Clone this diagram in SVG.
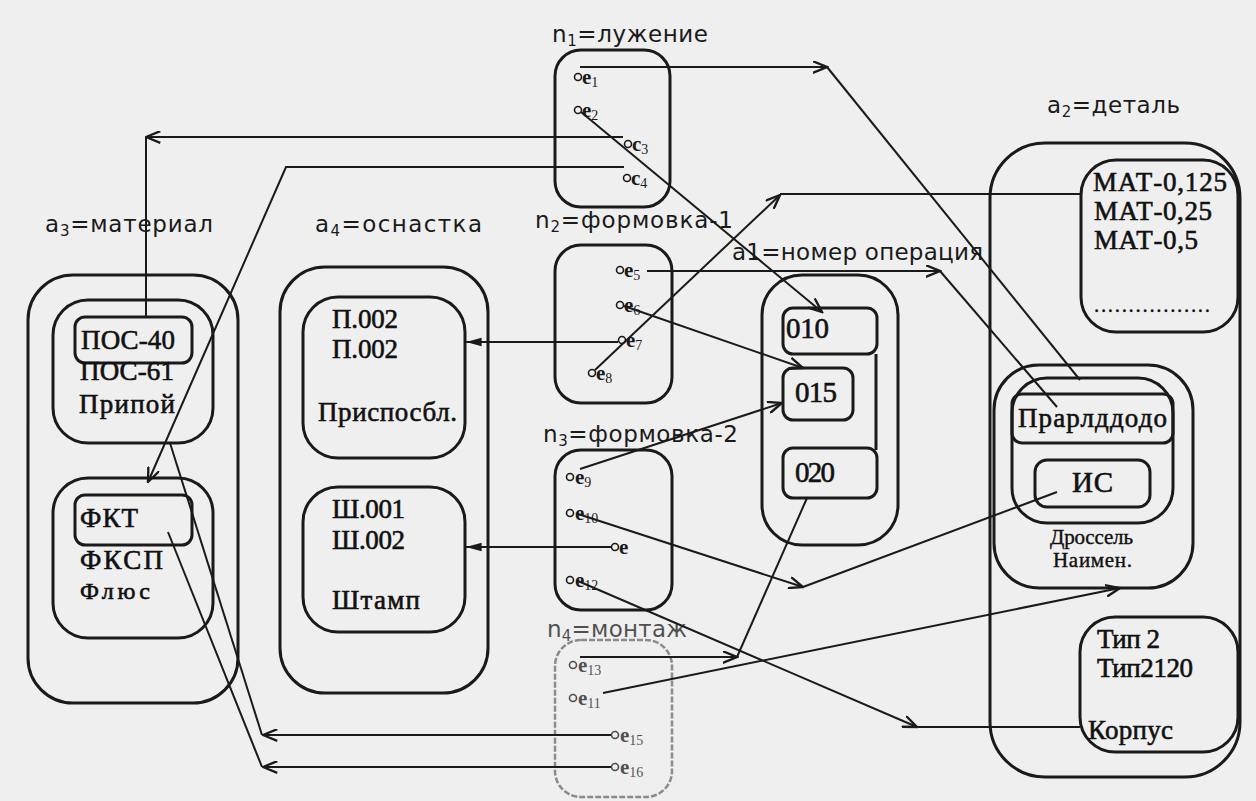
<svg xmlns="http://www.w3.org/2000/svg" width="1256" height="801" viewBox="0 0 1256 801">
<style>
.bx{fill:none;stroke:#1a1a1a;stroke-width:3}
.bxf{fill:none;stroke:#6a6a6a;stroke-width:2.5;stroke-dasharray:6 2}
.cn{fill:none;stroke:#1a1a1a;stroke-width:2}
.pt{fill:none;stroke:#1a1a1a;stroke-width:1.6}
.lb{font-family:"DejaVu Sans","Liberation Sans",sans-serif;font-size:23px;fill:#1a1a1a}
.sr{font-family:"Liberation Serif","Times New Roman",serif;font-size:27px;fill:#111;stroke:#111;stroke-width:0.6}
.sm{font-family:"Liberation Serif","Times New Roman",serif;font-size:21px;fill:#111;stroke:#111;stroke-width:0.4}
.it{font-family:"Liberation Serif","Times New Roman",serif;font-size:21px;font-weight:bold;fill:#1a1a1a}
.sb{font-size:14px;font-weight:normal}
.ls{font-size:15px}
</style>
<defs>
<marker id="op" viewBox="0 0 12 10" refX="11" refY="5" markerWidth="16" markerHeight="13" markerUnits="userSpaceOnUse" orient="auto">
<path d="M0,0.5 L11,5 L0,9.5" fill="none" stroke="#1a1a1a" stroke-width="1.8"/>
</marker>
<marker id="fl" viewBox="0 0 14 10" refX="13" refY="5" markerWidth="18" markerHeight="12" markerUnits="userSpaceOnUse" orient="auto">
<path d="M0,1.5 L13,5 L0,8.5 Z" fill="#1a1a1a"/>
</marker>
</defs>
<rect width="1256" height="801" fill="#efefef"/>

<g id="n1">
<rect class="bx" x="555" y="50" width="115" height="157" rx="26"/>
<text class="lb" x="552" y="42" textLength="156">n<tspan class="ls" dy="4">1</tspan><tspan dy="-4">=лужение</tspan></text>
<circle class="pt" cx="578" cy="77" r="3.5"/><text class="it" x="582" y="84">e<tspan class="sb" dy="3">1</tspan></text>
<circle class="pt" cx="578" cy="110" r="3.5"/><text class="it" x="582" y="117">e<tspan class="sb" dy="3">2</tspan></text>
<circle class="pt" cx="628" cy="144" r="3.5"/><text class="it" x="632" y="151">c<tspan class="sb" dy="3">3</tspan></text>
<circle class="pt" cx="627" cy="178" r="3.5"/><text class="it" x="631" y="185">c<tspan class="sb" dy="3">4</tspan></text>
</g>

<g id="n2">
<rect class="bx" x="555" y="245" width="117" height="158" rx="26"/>
<text class="lb" x="535" y="228" textLength="198">n<tspan class="ls" dy="4">2</tspan><tspan dy="-4">=формовка-1</tspan></text>
<circle class="pt" cx="620" cy="270" r="3.5"/><text class="it" x="624" y="277">e<tspan class="sb" dy="3">5</tspan></text>
<circle class="pt" cx="620" cy="305" r="3.5"/><text class="it" x="624" y="312">e<tspan class="sb" dy="3">6</tspan></text>
<circle class="pt" cx="622" cy="340" r="3.5"/><text class="it" x="626" y="347">e<tspan class="sb" dy="3">7</tspan></text>
<circle class="pt" cx="592" cy="373" r="3.5"/><text class="it" x="596" y="380">e<tspan class="sb" dy="3">8</tspan></text>
</g>

<g id="n3">
<rect class="bx" x="555" y="450" width="117" height="160" rx="26"/>
<text class="lb" x="543" y="442" textLength="195">n<tspan class="ls" dy="4">3</tspan><tspan dy="-4">=формовка-2</tspan></text>
<circle class="pt" cx="570" cy="477" r="3.5"/><text class="it" x="575" y="484">e<tspan class="sb" dy="3">9</tspan></text>
<circle class="pt" cx="570" cy="513" r="3.5"/><text class="it" x="575" y="520">e<tspan class="sb" dy="3">10</tspan></text>
<circle class="pt" cx="615" cy="547" r="3.5"/><text class="it" x="619" y="554">e</text>
<circle class="pt" cx="570" cy="580" r="3.5"/><text class="it" x="575" y="587">e<tspan class="sb" dy="3">12</tspan></text>
</g>

<g id="n4" opacity="0.75">
<rect class="bxf" x="555" y="640" width="117" height="157" rx="26"/>
<text class="lb" x="547" y="637" textLength="140">n<tspan class="ls" dy="4">4</tspan><tspan dy="-4">=монтаж</tspan></text>
<circle class="pt" cx="573" cy="665" r="3.5"/><text class="it" x="578" y="672">e<tspan class="sb" dy="3">13</tspan></text>
<circle class="pt" cx="573" cy="698" r="3.5"/><text class="it" x="578" y="705">e<tspan class="sb" dy="3">11</tspan></text>
<circle class="pt" cx="615" cy="735" r="3.5"/><text class="it" x="620" y="742">e<tspan class="sb" dy="3">15</tspan></text>
<circle class="pt" cx="615" cy="767" r="3.5"/><text class="it" x="620" y="774">e<tspan class="sb" dy="3">16</tspan></text>
</g>

<g id="a3">
<text class="lb" x="45" y="232" textLength="168">a<tspan class="ls" dy="4">3</tspan><tspan dy="-4">=материал</tspan></text>
<rect class="bx" x="28" y="275" width="210" height="428" rx="45"/>
<rect class="bx" x="53" y="300" width="160" height="143" rx="35"/>
<rect class="bx" x="75" y="317" width="117" height="46" rx="10"/>
<text class="sr" x="81" y="349" textLength="94">ПОС-40</text>
<text class="sr" x="80" y="380" textLength="94">ПОС-61</text>
<text class="sr" x="79" y="413" textLength="96">Припой</text>
<rect class="bx" x="53" y="478" width="160" height="160" rx="35"/>
<rect class="bx" x="75" y="495" width="117" height="50" rx="10"/>
<text class="sr" x="80" y="527" textLength="58">ФКТ</text>
<text class="sr" x="80" y="569" textLength="83">ФКСП</text>
<text class="sr" x="80" y="599" textLength="70" style="font-size:24px">Флюс</text>
</g>

<g id="a4">
<text class="lb" x="315" y="232" textLength="167">a<tspan class="ls" dy="4">4</tspan><tspan dy="-4">=оснастка</tspan></text>
<rect class="bx" x="280" y="267" width="208" height="426" rx="45"/>
<rect class="bx" x="303" y="297" width="162" height="161" rx="35"/>
<text class="sr" x="332" y="328" textLength="66">П.002</text>
<text class="sr" x="332" y="358" textLength="66">П.002</text>
<text class="sr" x="318" y="421" textLength="139">Приспосбл.</text>
<rect class="bx" x="303" y="487" width="162" height="145" rx="35"/>
<text class="sr" x="332" y="518" textLength="73">Ш.001</text>
<text class="sr" x="332" y="549" textLength="73">Ш.002</text>
<text class="sr" x="332" y="609" textLength="88">Штамп</text>
</g>

<g id="a1">
<text class="lb" x="732" y="260" textLength="251">a1=номер операция</text>
<rect class="bx" x="762" y="275" width="136" height="270" rx="40"/>
<rect class="bx" x="783" y="308" width="94" height="46" rx="10"/>
<line class="bx" x1="876" y1="354" x2="876" y2="450"/>
<text class="sr" x="786" y="338" textLength="43" style="font-size:29px">010</text>
<rect class="bx" x="783" y="368" width="70" height="52" rx="10"/>
<text class="sr" x="795" y="402" textLength="42" style="font-size:29px">015</text>
<rect class="bx" x="783" y="448" width="94" height="50" rx="10"/>
<text class="sr" x="795" y="482" textLength="40" style="font-size:29px">020</text>
</g>

<g id="a2">
<text class="lb" x="1047" y="113" textLength="133">a<tspan class="ls" dy="4">2</tspan><tspan dy="-4">=деталь</tspan></text>
<rect class="bx" x="990" y="143" width="250" height="634" rx="55"/>
<rect class="bx" x="1081" y="160" width="157" height="172" rx="35"/>
<text class="sr" x="1093" y="191" textLength="134">МАТ-0,125</text>
<text class="sr" x="1094" y="220" textLength="118">МАТ-0,25</text>
<text class="sr" x="1094" y="249" textLength="104">МАТ-0,5</text>
<text class="sm" x="1094" y="312" textLength="116">.................</text>
<rect class="bx" x="994" y="365" width="199" height="223" rx="45"/>
<rect class="bx" x="1012" y="378" width="161" height="145" rx="35"/>
<rect class="bx" x="1012" y="394" width="161" height="49" rx="10"/>
<text class="sr" x="1018" y="427" textLength="149">Прарлддодо</text>
<rect class="bx" x="1035" y="460" width="115" height="47" rx="12"/>
<text class="sr" x="1072" y="492" textLength="41" style="font-size:29px">ИС</text>
<text class="sm" x="1050" y="544" textLength="83">Дроссель</text>
<text class="sm" x="1053" y="567" textLength="79">Наимен.</text>
<rect class="bx" x="1080" y="617" width="158" height="135" rx="35"/>
<text class="sr" x="1097" y="648" textLength="63">Тип 2</text>
<text class="sr" x="1097" y="677" textLength="96">Тип2120</text>
<text class="sr" x="1088" y="739" textLength="85">Корпус</text>
</g>

<g id="connectors">
<path class="cn" d="M580,67 H827" marker-end="url(#op)"/>
<path class="cn" d="M827,67 L1080,380"/>
<path class="cn" d="M581,112 L822,312" marker-end="url(#op)"/>
<path class="cn" d="M623,137 H146" marker-end="url(#op)"/>
<path class="cn" d="M146,137 V317"/>
<path class="cn" d="M624,167 H286 L148,482" marker-end="url(#op)"/>
<path class="cn" d="M647,271 H940" marker-end="url(#op)"/>
<path class="cn" d="M940,271 L1057,407"/>
<path class="cn" d="M624,306 L803,368" marker-end="url(#op)"/>
<path class="cn" d="M618,342 H466" marker-end="url(#fl)"/>
<path class="cn" d="M595,370 L780,195" marker-end="url(#op)"/>
<path class="cn" d="M780,194 H1081"/>
<path class="cn" d="M580,469 L782,403" marker-end="url(#op)"/>
<path class="cn" d="M578,514 L803,587" marker-end="url(#op)"/>
<path class="cn" d="M803,587 L1057,492"/>
<path class="cn" d="M611,547 H466" marker-end="url(#fl)"/>
<path class="cn" d="M578,581 L917,727" marker-end="url(#op)"/>
<path class="cn" d="M917,727 H1080"/>
<path class="cn" d="M580,657 H737" marker-end="url(#op)"/>
<path class="cn" d="M737,657 L807,498"/>
<path class="cn" d="M603,693 L1120,588" marker-end="url(#op)"/>
<path class="cn" d="M611,735 H263" marker-end="url(#op)"/>
<path class="cn" d="M262,735 L170,443"/>
<path class="cn" d="M611,767 H263" marker-end="url(#op)"/>
<path class="cn" d="M262,767 L168,532"/>
</g>
</svg>
